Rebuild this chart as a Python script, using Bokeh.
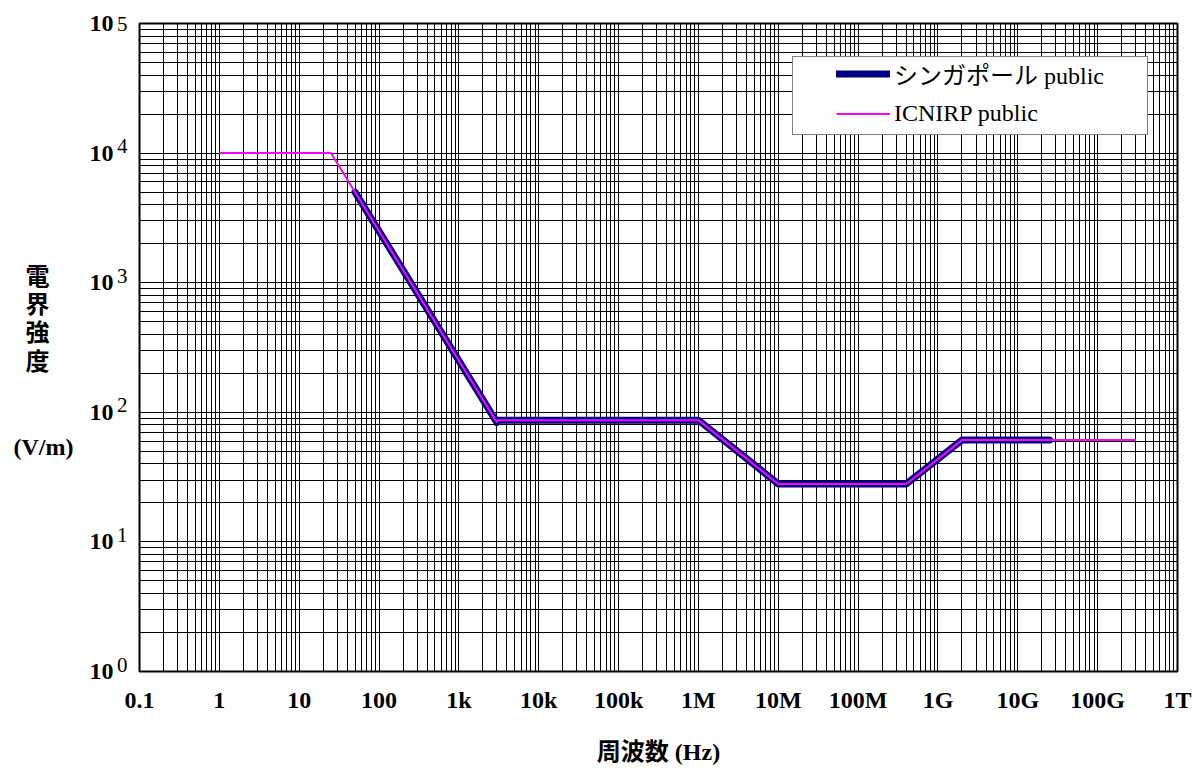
from bokeh.plotting import figure
from bokeh.models import (Range1d, FixedTicker, LogAxis, LogScale, Legend,
                          LegendItem)
from bokeh.embed import file_html
from bokeh.resources import INLINE

# Electric field reference levels (V/m) versus frequency (Hz)
icnirp_freq = [1, 25, 3000, 3000, 1e6, 1e7, 4e8, 2e9, 3e11]
icnirp_field = [10000, 10000, 83.3, 87, 87, 28, 28, 61, 61]

singapore_freq = [50, 3000, 3000, 1e6, 1e7, 4e8, 2e9, 2.5e10]
singapore_field = [5000, 83.3, 87, 87, 28, 28, 61, 61]

x_tick_values = [0.1] + [10 ** k for k in range(0, 13)]
x_tick_labels = ["0.1", "1", "10", "100", "1k", "10k", "100k", "1M", "10M",
                 "100M", "1G", "10G", "100G", "1T"]
y_exponents = [0, 1, 2, 3, 4, 5]

y_label = "\n電\u3000\n界\u3000\n強\u3000\n度\u3000\n\n\n(V/m)"
x_label = "周波数 (Hz)"

SERIF = "'Liberation Serif', 'Noto Sans CJK JP'"

p = figure(width=1203, height=772,
           x_axis_type="log", y_axis_type="log", y_axis_location=None,
           x_range=Range1d(0.1, 1e12), y_range=Range1d(1, 1e5),
           output_backend="svg", toolbar_location=None,
           min_border_left=139, min_border_right=26,
           min_border_top=23, min_border_bottom=101)
p.background_fill_color = "white"
p.border_fill_color = "white"
p.outline_line_color = "black"
p.outline_line_width = 2

x_minor = [m * 10.0 ** k for k in range(-1, 12) for m in range(2, 10)]
y_major = [10 ** e for e in y_exponents]
y_minor = [m * 10.0 ** k for k in range(0, 5) for m in range(2, 10)]
xticker = FixedTicker(ticks=x_tick_values, minor_ticks=x_minor)
yticker = FixedTicker(ticks=y_major, minor_ticks=y_minor)

p.xaxis.ticker = xticker
p.xgrid.ticker = xticker
p.ygrid.ticker = yticker

for g in (p.xgrid, p.ygrid):
    g.grid_line_color = "black"
    g.grid_line_width = 1
    g.minor_grid_line_color = "black"
    g.minor_grid_line_width = 1

p.xaxis.axis_line_color = None
p.xaxis.major_tick_line_color = None
p.xaxis.minor_tick_line_color = None
p.xaxis.major_tick_out = 0
p.xaxis.major_label_overrides = {v: t for v, t in zip(x_tick_values, x_tick_labels)}
p.xaxis.major_label_text_font = "Liberation Serif"
p.xaxis.major_label_text_font_style = "bold"
p.xaxis.major_label_text_font_size = "24px"
p.xaxis.major_label_text_color = "black"
p.xaxis.major_label_standoff = 11

p.xaxis.axis_label = x_label
p.xaxis.axis_label_text_font = SERIF
p.xaxis.axis_label_text_font_style = "bold"
p.xaxis.axis_label_text_font_size = "24px"
p.xaxis.axis_label_text_color = "black"
p.xaxis.axis_label_standoff = 23

# Exponent labels sit on a slightly shifted copy of the y range so they
# appear raised next to the base "10"; the top one is pinned to the range end
raise_dec = 0.054
exp_end = 10 ** (5 - raise_dec)
p.extra_y_ranges = {"exp": Range1d(10 ** (-raise_dec), exp_end)}
p.extra_y_scales = {"exp": LogScale()}

exp_ticks = [v for v in y_major if v <= exp_end] + [exp_end * 0.99999]
exp_axis = LogAxis(y_range_name="exp", ticker=FixedTicker(ticks=exp_ticks, minor_ticks=[]))
exp_axis.major_label_overrides = {v: str(e) for v, e in zip(exp_ticks, y_exponents)}
exp_axis.major_label_text_font = "Liberation Serif"
exp_axis.major_label_text_font_size = "21px"
exp_axis.major_label_text_color = "black"
exp_axis.major_label_standoff = 12

base_axis = LogAxis(ticker=FixedTicker(ticks=y_major, minor_ticks=[]))
base_axis.major_label_overrides = {v: "10" for v in y_major}
base_axis.major_label_text_font = "Liberation Serif"
base_axis.major_label_text_font_style = "bold"
base_axis.major_label_text_font_size = "24px"
base_axis.major_label_text_color = "black"
base_axis.major_label_standoff = 0
base_axis.axis_label = y_label
base_axis.axis_label_orientation = "horizontal"
base_axis.axis_label_text_font = SERIF
base_axis.axis_label_text_font_style = "bold"
base_axis.axis_label_text_font_size = "24px"
base_axis.axis_label_text_line_height = 1.09
base_axis.axis_label_text_color = "black"
base_axis.axis_label_standoff = 13

for ax in (exp_axis, base_axis):
    ax.axis_line_color = None
    ax.major_tick_line_color = None
    ax.minor_tick_line_color = None
    ax.major_tick_out = 0
    ax.major_tick_in = 0
    ax.minor_tick_out = 0
    ax.minor_tick_in = 0

p.add_layout(exp_axis, "left")
p.add_layout(base_axis, "left")

r_sg = p.line(singapore_freq, singapore_field, line_color="#000080", line_width=7,
              line_cap="round", line_join="round")
r_ic = p.line(icnirp_freq, icnirp_field, line_color="#FF00FF", line_width=2)

# legend frame: a wide white box drawn behind the legend entries
r_blank = p.line([], [], line_alpha=0)
legend_box = Legend(items=[LegendItem(label=" ", renderers=[r_blank])],
                    location=(653, 536))
legend_box.border_line_color = "black"
legend_box.border_line_width = 1
legend_box.background_fill_color = "white"
legend_box.background_fill_alpha = 1
legend_box.padding = 4
legend_box.margin = 0
legend_box.spacing = 0
legend_box.glyph_width = 20
legend_box.glyph_height = 69
legend_box.label_height = 69
legend_box.label_width = 326
legend_box.label_standoff = 0
legend_box.label_text_font_size = "10px"
p.add_layout(legend_box)

legend = Legend(items=[LegendItem(label="シンガポール public", renderers=[r_sg]),
                       LegendItem(label="ICNIRP public", renderers=[r_ic])],
                location=(697, 543))
legend.border_line_color = None
legend.background_fill_alpha = 0
legend.padding = 2
legend.spacing = 8
legend.margin = 0
legend.glyph_width = 54
legend.glyph_height = 29
legend.label_height = 29
legend.label_width = 240
legend.label_standoff = 4
legend.label_text_font = SERIF
legend.label_text_font_size = "24px"
legend.label_text_color = "black"
p.add_layout(legend)

open("out.html", "w").write(file_html(p, INLINE))
